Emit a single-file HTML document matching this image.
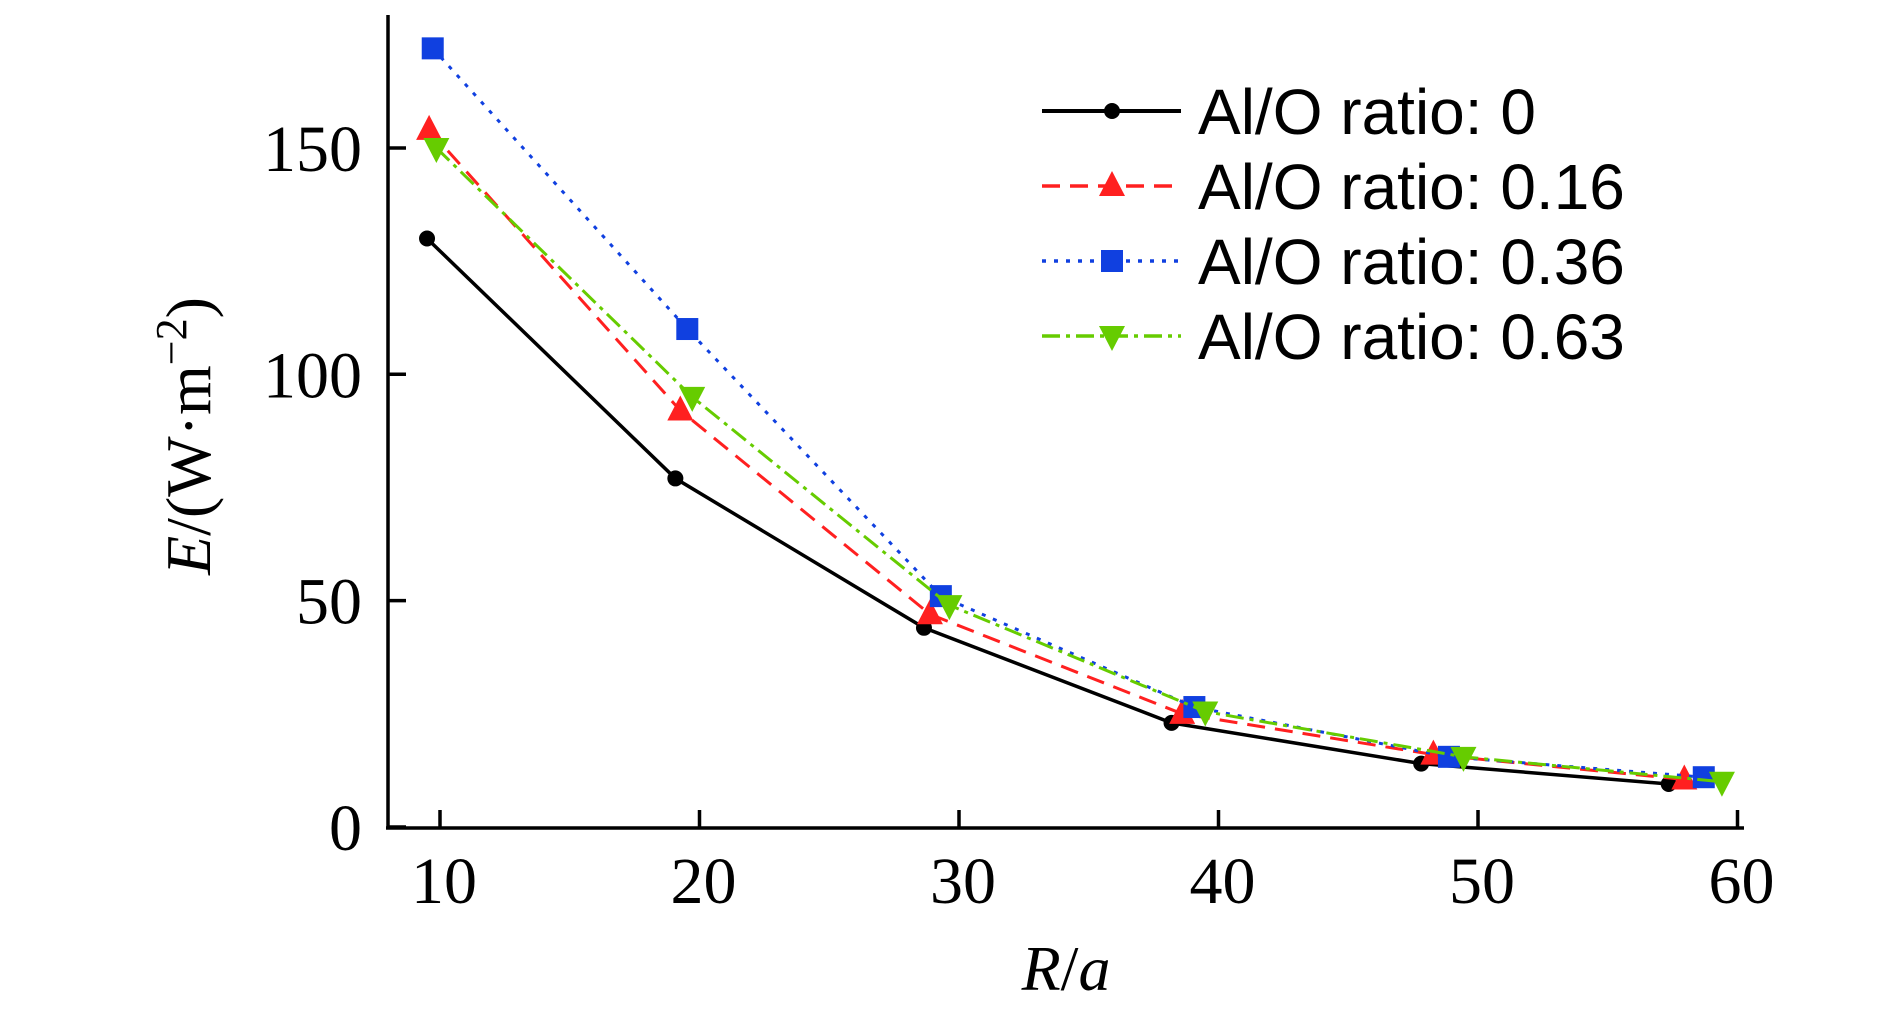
<!DOCTYPE html>
<html><head><meta charset="utf-8"><style>
html,body{margin:0;padding:0;background:#fff}
svg{display:block;font-family:"Liberation Serif",serif}
</style></head><body>
<svg width="1890" height="1014" viewBox="0 0 1890 1014">
<g id="plot"></g>
</svg>
<script>
const xTicks=[10,20,30,40,50,60];
const yTicks=[0,50,100,150];
const seriesNames=["Al/O ratio: 0","Al/O ratio: 0.16","Al/O ratio: 0.36","Al/O ratio: 0.63"];
const xBlack=[9.5,19.07,28.65,38.19,47.81,57.35];
const yBlack=[130,77,44,23,14,9.5];
const xRed=[9.58,19.26,28.88,38.6,48.28,57.95];
const yRed=[154,92,47,25,16,10.5];
const xBlue=[9.72,19.53,29.3,39.07,48.88,58.7];
const yBlue=[172,110,51,26.5,15.5,11];
const xGreen=[9.86,19.72,29.63,39.49,49.44,59.4];
const yGreen=[150,95,49,25.5,15.5,10];

const NS="http://www.w3.org/2000/svg";
const g=document.getElementById('plot');
const X=v=>440+(v-10)*25.95;
const Y=v=>827-v*4.527;
function mk(t,a,p){const e=document.createElementNS(NS,t);for(const k in a)e.setAttribute(k,a[k]);(p||g).appendChild(e);return e;}
let ax=mk('line',{x1:388,y1:15,x2:388,y2:829,stroke:'#000','stroke-width':3.5});


ax=mk('line',{x1:386,y1:828,x2:1744,y2:828,stroke:'#000','stroke-width':3.5});


xTicks.forEach(v=>{
 const l=mk('line',{x1:X(v),y1:828,x2:X(v),y2:810,stroke:'#000','stroke-width':3.5});
 
 
 const t=mk('text',{x:X(v)+4,y:903,'font-size':66,'text-anchor':'middle'});t.textContent=v;
 
 
});
yTicks.forEach(v=>{
 const l=mk('line',{x1:388,y1:Y(v),x2:406,y2:Y(v),stroke:'#000','stroke-width':3.5});
 
 
 const t=mk('text',{x:362,y:Y(v)+23,'font-size':66,'text-anchor':'end'});t.textContent=v;
 
 
});
let yl=mk('text',{x:0,y:0,'font-size':64,'text-anchor':'middle',transform:'translate(210,436) rotate(-90)'});
yl.innerHTML='<tspan font-style="italic">E</tspan>/(W·m<tspan dy="-24" font-size="44">−2</tspan><tspan dy="24">)</tspan>';


let xl=mk('text',{x:1066,y:990,'font-size':64,'text-anchor':'middle','font-style':'italic'});
xl.innerHTML='R<tspan font-style="normal">/</tspan>a';



const series=[
 {xs:xBlack,ys:yBlack,c:'#000',d:'',m:'circle',w:3.5},
 {xs:xRed,ys:yRed,c:'#ff2020',d:'18 10',m:'up',w:3},
 {xs:xBlue,ys:yBlue,c:'#1040e0',d:'4 8',m:'square',w:3},
 {xs:xGreen,ys:yGreen,c:'#66cc00',d:'18 6 4 6',m:'down',w:3}
];
function marker(type,x,y,c,p){
 let e;
 if(type==='circle')e=mk('circle',{cx:x,cy:y,r:8,fill:c},p);
 else if(type==='square')e=mk('rect',{x:x-11,y:y-11,width:22,height:22,fill:c},p);
 else if(type==='up')e=mk('polygon',{points:`${x},${y-15} ${x-13},${y+10} ${x+13},${y+10}`,fill:c},p);
 else e=mk('polygon',{points:`${x},${y+15} ${x-13},${y-10} ${x+13},${y-10}`,fill:c},p);
 return e;
}
series.forEach((s,i)=>{
 const pts=s.xs.map((v,j)=>X(v)+','+Y(s.ys[j])).join(' ');
 const pl=mk('polyline',{points:pts,fill:'none',stroke:s.c,'stroke-width':s.w,'stroke-dasharray':s.d});
 
 
 s.xs.forEach((v,j)=>{
  const m=marker(s.m,X(v),Y(s.ys[j]),s.c);
  
  
 });
 const ly=111+i*75;
 const ll=mk('line',{x1:1042,y1:ly,x2:1181,y2:ly,stroke:s.c,'stroke-width':s.w+0.5,'stroke-dasharray':s.d});
 
 
 const lm=marker(s.m,1112,ly,s.c);
 
 
 const lt=mk('text',{x:1198,y:ly+23,'font-size':64,'font-family':'Liberation Sans, sans-serif'});
 lt.textContent=seriesNames[i];
 
 
});
</script>
</body></html>
